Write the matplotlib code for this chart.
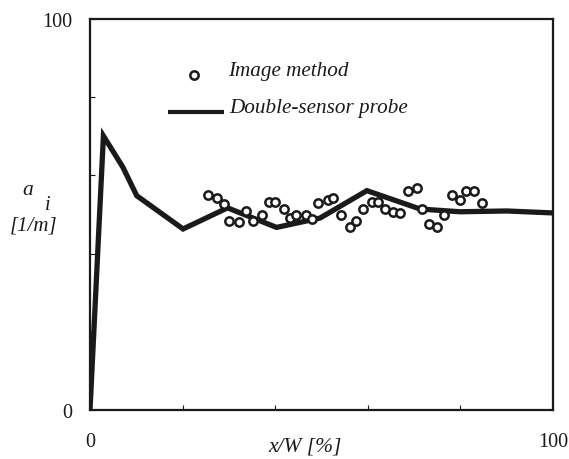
import matplotlib
matplotlib.use("Agg")
import matplotlib.pyplot as plt

# Interfacial area concentration across the channel width
probe_x = [0.0, 2.9, 7.1, 10.1, 20.1, 29.7, 40.3, 49.7, 59.8, 71.3, 79.9, 90.0, 100.0]
probe_a = [0.0, 70.1, 62.1, 54.8, 46.3, 51.7, 46.7, 49.1, 56.1, 51.4, 50.7, 50.9, 50.4]

image_x = [25.4, 27.4, 29.0, 30.1, 32.2, 33.7, 35.1, 37.1, 38.7, 40.0,
           41.9, 43.3, 44.6, 46.7, 47.9, 49.3, 51.3, 52.5, 54.2, 56.2,
           57.5, 58.9, 60.8, 62.3, 63.7, 65.4, 67.0, 68.6, 70.6, 71.6,
           73.3, 74.9, 76.5, 78.1, 79.9, 81.2, 82.9, 84.6]
image_a = [55.0, 54.1, 52.7, 48.4, 48.0, 50.8, 48.3, 49.9, 53.3, 53.3,
           51.4, 49.0, 49.9, 49.9, 48.8, 52.9, 53.6, 54.1, 49.9, 46.9,
           48.4, 51.4, 53.1, 53.3, 51.4, 50.7, 50.4, 56.1, 56.7, 51.4,
           47.6, 46.9, 49.9, 55.0, 53.8, 56.1, 56.1, 52.9]

serif = ["Liberation Serif", "DejaVu Serif"]
plt.rcParams["font.family"] = serif

W, H = 569, 460
fig = plt.figure(figsize=(W / 100, H / 100), dpi=100)
ax = fig.add_axes([90 / W, 1 - 411 / H, (553 - 90) / W, (411 - 20) / H])

ink = "#1a1a1a"
ax.plot(probe_x, probe_a, color=ink, lw=3.8, solid_joinstyle="miter",
        solid_capstyle="butt", zorder=2)
ax.plot(image_x, image_a, linestyle="none", marker="o", ms=6.0,
        mfc="white", mec=ink, mew=1.8, zorder=3)

ax.set_xlim(0, 100)
ax.set_ylim(0, 100)
ax.set_xticks([0, 20, 40, 60, 80, 100])
ax.set_yticks([0, 20, 40, 60, 80, 100])
ax.set_xticklabels(["0", "", "", "", "", "100"])
ax.set_yticklabels(["0", "", "", "", "", "100"])
ax.tick_params(direction="in", length=3.5, width=0.8, color=ink,
               labelsize=14.5, labelcolor=ink)
ax.tick_params(axis="x", pad=16)
ax.tick_params(axis="y", pad=13)
for s in ax.spines.values():
    s.set_color(ink)
    s.set_linewidth(1.6)


def px(x, y):
    return x / W, 1 - y / H


# Legend drawn inside the axes
fig.lines.append(plt.Line2D([194 / W], [1 - 76 / H], marker="o", ms=6.0,
                            mfc="white", mec=ink, mew=1.8,
                            transform=fig.transFigure))
fig.lines.append(plt.Line2D([168 / W, 224 / W], [1 - 113 / H, 1 - 113 / H],
                            color=ink, lw=3.0, solid_capstyle="butt",
                            transform=fig.transFigure))
fig.text(*px(228, 76), "Image method", style="italic", fontsize=15.2,
         va="baseline", ha="left", color=ink)
fig.text(*px(229, 113), "Double-sensor probe", style="italic", fontsize=15.2,
         va="baseline", ha="left", color=ink)

# Axis titles
fig.text(*px(22, 195), "a", style="italic", fontsize=15.5, va="baseline",
         ha="left", color=ink)
fig.text(*px(45, 210), "i", style="italic", fontsize=14.5, va="baseline",
         ha="left", color=ink)
fig.text(*px(10, 231), "[1/m]", style="italic", fontsize=15, va="baseline",
         ha="left", color=ink)
fig.text(*px(305, 452), "x/W [%]", style="italic", fontsize=15.5,
         va="baseline", ha="center", color=ink)

fig.savefig("out.png", dpi=100, facecolor="white")
